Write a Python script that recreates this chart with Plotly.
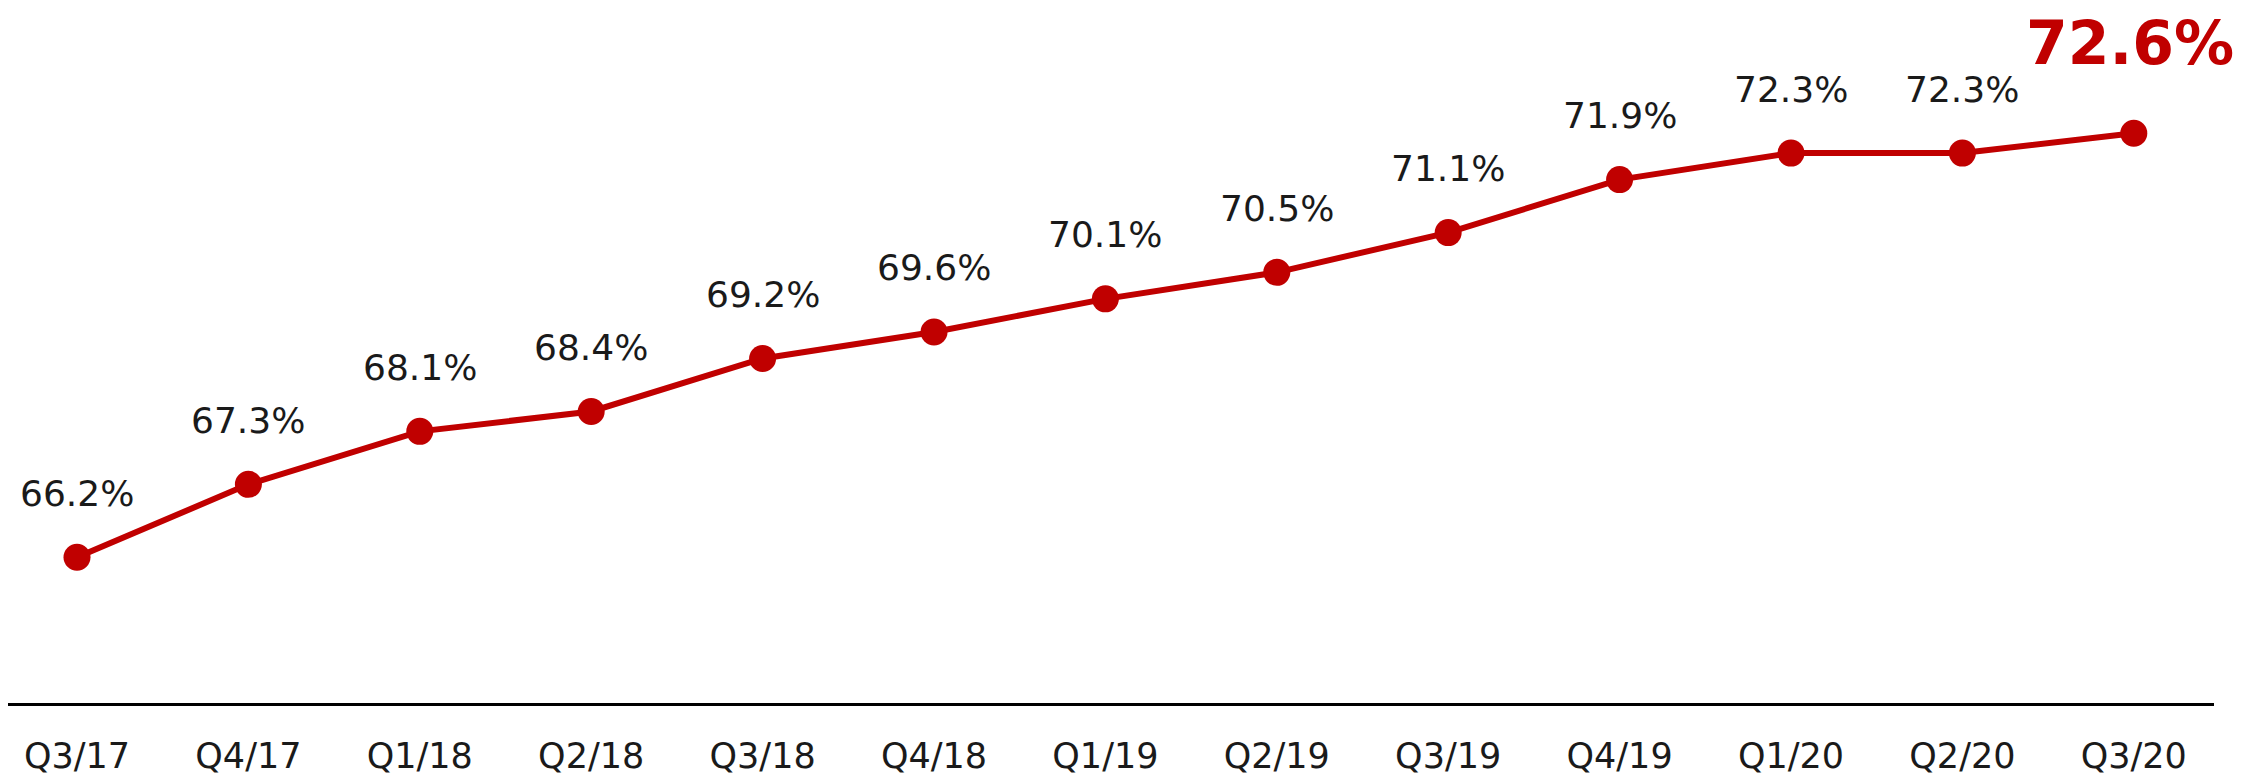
import plotly.graph_objects as go

quarters = ["Q3/17", "Q4/17", "Q1/18", "Q2/18", "Q3/18", "Q4/18", "Q1/19",
            "Q2/19", "Q3/19", "Q4/19", "Q1/20", "Q2/20", "Q3/20"]
values = [66.2, 67.3, 68.1, 68.4, 69.2, 69.6, 70.1, 70.5, 71.1, 71.9, 72.3, 72.3, 72.6]

RED = "#C00000"
FONT = "DejaVu Sans"

fig = go.Figure()
fig.add_trace(go.Scatter(
    x=list(range(len(quarters))), y=values, mode="lines+markers",
    line=dict(color=RED, width=6),
    marker=dict(color=RED, size=27),
    hoverinfo="skip", showlegend=False,
))

annotations = []
for i, (q, v) in enumerate(zip(quarters, values)):
    last = i == len(values) - 1
    annotations.append(dict(
        x=i, y=v, xref="x", yref="y", text=f"{v:.1f}%", showarrow=False,
        yshift=90 if last else 64, xshift=-4 if last else 0,
        yanchor="middle", xanchor="center", borderpad=0,
        font=dict(family=FONT, size=60 if last else 36,
                  color=RED if last else "#1a1a1a",
                  weight="bold" if last else "normal"),
    ))

# page body has an 8px default margin, so the figure is sized/offset to compensate
fig.update_layout(
    width=2239, height=769,
    margin=dict(l=0, r=33, t=0, b=74),
    paper_bgcolor="white", plot_bgcolor="white",
    annotations=annotations,
    xaxis=dict(
        range=[-0.4026, 12.468], tickmode="array",
        tickvals=list(range(len(quarters))), ticktext=quarters,
        showgrid=False, zeroline=False, showline=True, linecolor="black",
        linewidth=3, ticks="", tickfont=dict(family=FONT, size=35, color="#1a1a1a"),
        ticklabelstandoff=20,
    ),
    yaxis=dict(range=[64.0, 74.49], visible=False, showgrid=False, zeroline=False),
)

fig.write_html("out.html")
